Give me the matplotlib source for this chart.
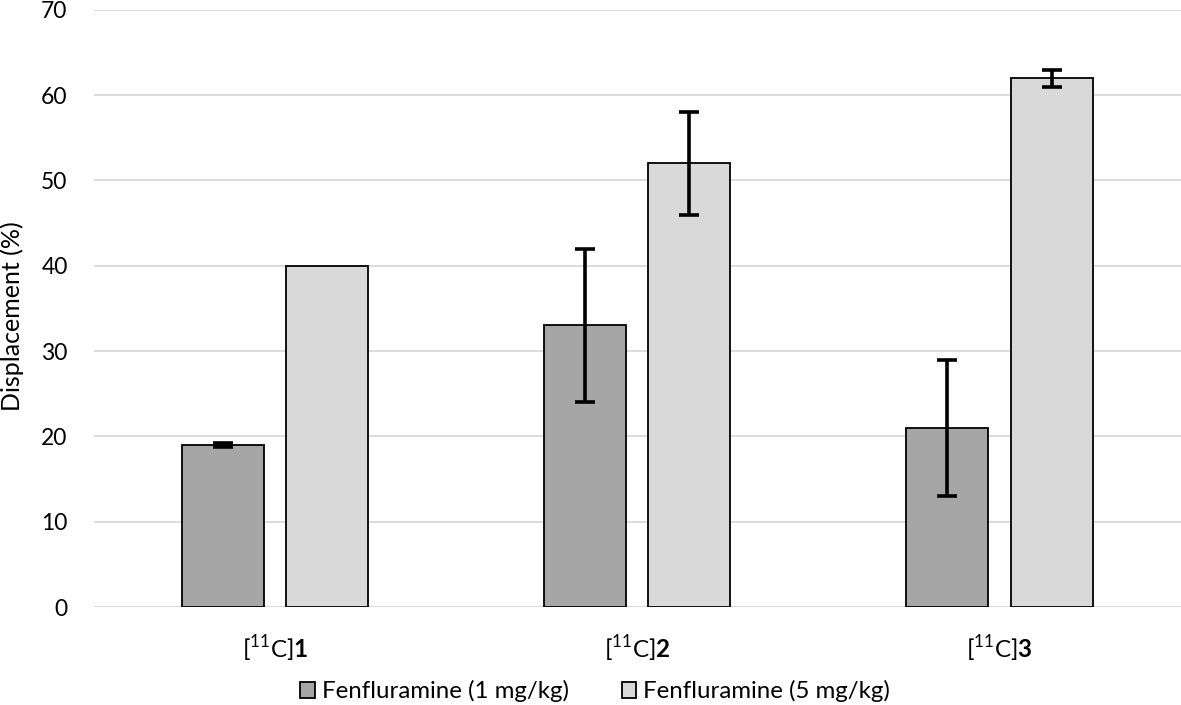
import matplotlib.pyplot as plt
import numpy as np

plt.rcParams['font.family'] = ['Lato', 'DejaVu Sans']
plt.rcParams['mathtext.fontset'] = 'custom'
plt.rcParams['mathtext.rm'] = 'Lato'
plt.rcParams['mathtext.bf'] = 'Lato:bold'

# Dados
categorias = [r'[$^{11}$C]$\mathbf{1}$', r'[$^{11}$C]$\mathbf{2}$', r'[$^{11}$C]$\mathbf{3}$']
series = ['Fenfluramine (1 mg/kg)', 'Fenfluramine (5 mg/kg)']
val_1mg = [19, 33, 21]
err_1mg = [0.2, 9, 8]
val_5mg = [40, 52, 62]
err_5mg = [0, 6, 1]
cores = ['#a6a6a6', '#d9d9d9']

fig = plt.figure(figsize=(11.81, 7.05), dpi=100)
ax = fig.add_axes([0.0796, 0.139, 0.92, 0.847])

x = np.arange(len(categorias))
largura = 0.226
desloc = 0.144

for i, (vals, errs) in enumerate([(val_1mg, err_1mg), (val_5mg, err_5mg)]):
    pos = x + (i * 2 - 1) * desloc
    ax.bar(pos, vals, largura, color=cores[i], edgecolor='black', linewidth=1.3,
           label=series[i], zorder=3)
    mask = np.array(errs) > 0
    ax.errorbar(pos[mask], np.array(vals)[mask], yerr=np.array(errs)[mask], fmt='none',
                ecolor='black', elinewidth=2.6, capsize=7, capthick=2.6, zorder=4)

ax.set_xlim(-0.5, 2.5)
ax.set_ylim(0, 70)
ax.set_yticks(np.arange(0, 71, 10))
ax.set_xticks(x)
ax.set_xticklabels(categorias, fontsize=17.5)
ax.tick_params(axis='y', labelsize=16.5, length=0, pad=19)
ax.tick_params(axis='x', length=0, pad=19)
ax.grid(axis='y', color='#d9d9d9', linewidth=1.3, zorder=0)
for s in ax.spines.values():
    s.set_visible(False)

# rótulo do eixo y
fig.text(12 / 1181, 1 - 316 / 705, 'Displacement (%)', rotation=90,
         ha='center', va='center', fontsize=18)

fig.legend(loc='lower center', bbox_to_anchor=(0.504, -0.027), ncol=2, frameon=False,
           fontsize=17.3, handlelength=0.6, handleheight=0.6, handletextpad=0.3,
           columnspacing=2.2)

fig.savefig('out.png', dpi=100)
